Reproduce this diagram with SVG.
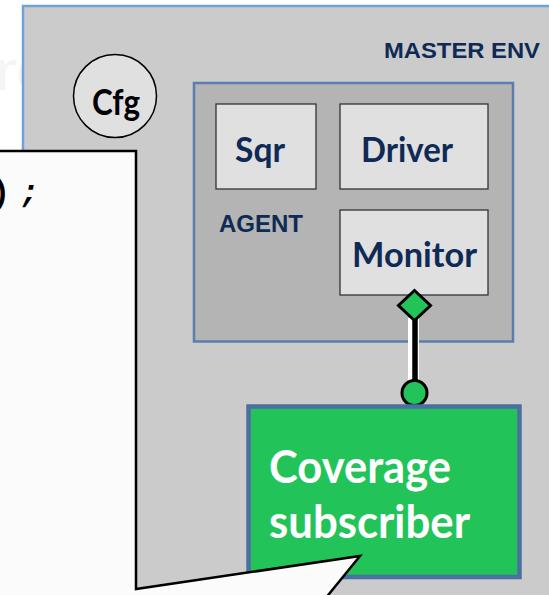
<svg xmlns="http://www.w3.org/2000/svg" width="549" height="595" viewBox="0 0 549 595">
<style>
.lbl{font-family:Lato,"Open Sans",sans-serif;font-weight:bold;fill:#0e2a55;text-anchor:middle}
.cap{font-family:"Liberation Sans",Arial,sans-serif;font-weight:bold;fill:#0e2a55}
.box{fill:#e0e0e0;stroke:#333;stroke-width:1.3}
.green{fill:#22c45a;stroke:#000;stroke-width:3}
</style>
<rect x="0" y="0" width="549" height="595" fill="#ffffff"/>
<text x="-4" y="90" font-family="Lato,sans-serif" font-size="58" fill="#f5f5f5">rc</text>
<g id="master-env">
<rect x="23" y="6" width="545" height="610" fill="#cbcbcb" stroke="#72a0d8" stroke-width="2.5"/>
<text class="cap" x="540" y="58" font-size="22" text-anchor="end" textLength="156" lengthAdjust="spacingAndGlyphs">MASTER ENV</text>
</g>
<g id="cfg">
<circle cx="115" cy="96" r="41.5" fill="#e0e0e0" stroke="#000" stroke-width="1.5"/>
<text class="lbl" x="116" y="115" font-size="37" style="fill:#000" textLength="48" lengthAdjust="spacingAndGlyphs">Cfg</text>
</g>
<g id="agent">
<rect x="194" y="83" width="319" height="258.5" fill="#b4b4b4" stroke="#5a7fae" stroke-width="2.5"/>
<text class="cap" x="219" y="232" font-size="23" textLength="84" lengthAdjust="spacingAndGlyphs">AGENT</text>
</g>
<g id="sqr">
<rect class="box" x="216" y="104" width="100" height="85"/>
<text class="lbl" x="260" y="162" font-size="35" textLength="50" lengthAdjust="spacingAndGlyphs">Sqr</text>
</g>
<g id="driver">
<rect class="box" x="340" y="104" width="148" height="85"/>
<text class="lbl" x="407" y="162" font-size="35" textLength="92" lengthAdjust="spacingAndGlyphs">Driver</text>
</g>
<g id="monitor">
<rect class="box" x="340" y="210" width="148" height="85"/>
<text class="lbl" x="414.5" y="267" font-size="35" textLength="125" lengthAdjust="spacingAndGlyphs">Monitor</text>
</g>
<g id="connectors">
<line x1="413.5" y1="318" x2="413.5" y2="382" stroke="#ffffff" stroke-width="11"/>
<line x1="415" y1="318" x2="415" y2="382" stroke="#000" stroke-width="5.5"/>
<polygon class="green" points="414.5,290.5 430.5,305.5 414.5,320.5 398.5,305.5"/>
<circle class="green" cx="414.5" cy="393" r="12.5"/>
</g>
<g id="coverage-subscriber">
<rect x="248.5" y="406.5" width="271" height="170.5" fill="#22c45a" stroke="#4a6fa0" stroke-width="4.5"/>
<text x="269" y="483" font-family="Lato,'Open Sans',sans-serif" font-weight="bold" font-size="45" fill="#ffffff" textLength="182" lengthAdjust="spacingAndGlyphs">Coverage</text>
<text x="269" y="538" font-family="Lato,'Open Sans',sans-serif" font-weight="bold" font-size="45" fill="#ffffff" textLength="201" lengthAdjust="spacingAndGlyphs">subscriber</text>
</g>
<g id="callout">
<polygon points="-10,151 136,151 136,589 360,556 316,610 -10,610" fill="#fbfbfb" stroke="#000" stroke-width="2.5" stroke-linejoin="miter"/>
<text font-family="'Liberation Mono','DejaVu Sans Mono',monospace" font-weight="bold" font-size="32" fill="#000"><tspan x="-9" y="202">)</tspan><tspan x="20" y="202" font-style="italic">;</tspan></text>
</g>
</svg>
